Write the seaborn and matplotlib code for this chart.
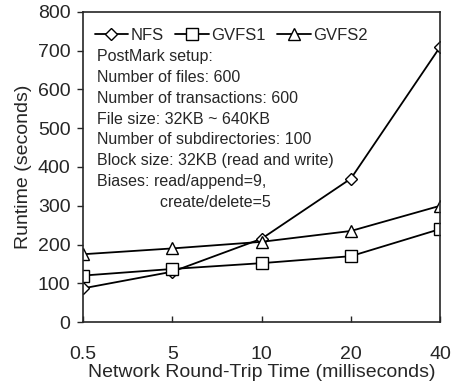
import numpy as np
import pandas as pd
import matplotlib
matplotlib.use("Agg")
import matplotlib.pyplot as plt
import seaborn as sns

# data
rtt = ["0.5", "5", "10", "20", "40"]
nfs = [87, 130, 215, 370, 710]
gvfs1 = [120, 137, 152, 170, 240]
gvfs2 = [175, 190, 207, 235, 300]
series = ["NFS", "GVFS1", "GVFS2"]
markers = ["D", "s", "^"]
msizes = [6.5, 8, 8.5]

setup_text = [
    "PostMark setup:",
    "Number of files: 600",
    "Number of transactions: 600",
    "File size: 32KB ~ 640KB",
    "Number of subdirectories: 100",
    "Block size: 32KB (read and write)",
    "Biases: read/append=9,",
    "              create/delete=5",
]

sns.set_style("ticks")
plt.rcParams["font.family"] = ["Liberation Sans", "DejaVu Sans"]

df = pd.DataFrame({"rtt": rtt * 3,
                   "runtime": nfs + gvfs1 + gvfs2,
                   "fs": np.repeat(series, len(rtt))})

fig = plt.figure(figsize=(4.51, 3.83), dpi=100)
ax = fig.add_axes([0.184, 0.159, 0.792, 0.810])

for name, m, ms in zip(series, markers, msizes):
    sub = df[df["fs"] == name]
    sns.lineplot(data=sub, x="rtt", y="runtime", ax=ax, color="black",
                 marker=m, markersize=ms, markerfacecolor="white",
                 markeredgecolor="black", markeredgewidth=1.0,
                 linewidth=1.3, label=name)

ax.set_xlim(0, 4)
ax.set_ylim(0, 800)
ax.set_yticks(range(0, 801, 100))
ax.tick_params(axis="both", labelsize=14, length=4, width=1)
ax.tick_params(axis="y", pad=5)
ax.tick_params(axis="x", direction="in", pad=17)
for s in ax.spines.values():
    s.set_linewidth(1.2)
    s.set_visible(True)

ax.set_xlabel("Network Round-Trip Time (milliseconds)", fontsize=14, labelpad=1)
ax.set_ylabel("Runtime (seconds)", fontsize=14, labelpad=4)

ax.legend(loc="upper left", ncol=3, frameon=False, fontsize=12,
          handlelength=2.0, handletextpad=0.15, columnspacing=0.7,
          bbox_to_anchor=(0.0, 0.985), borderaxespad=0.3)

for i, line in enumerate(setup_text):
    ax.text(0.04, 0.857 - i * 0.0675, line, transform=ax.transAxes,
            fontsize=11.5, va="center", ha="left")

fig.savefig("out.png", dpi=100)
